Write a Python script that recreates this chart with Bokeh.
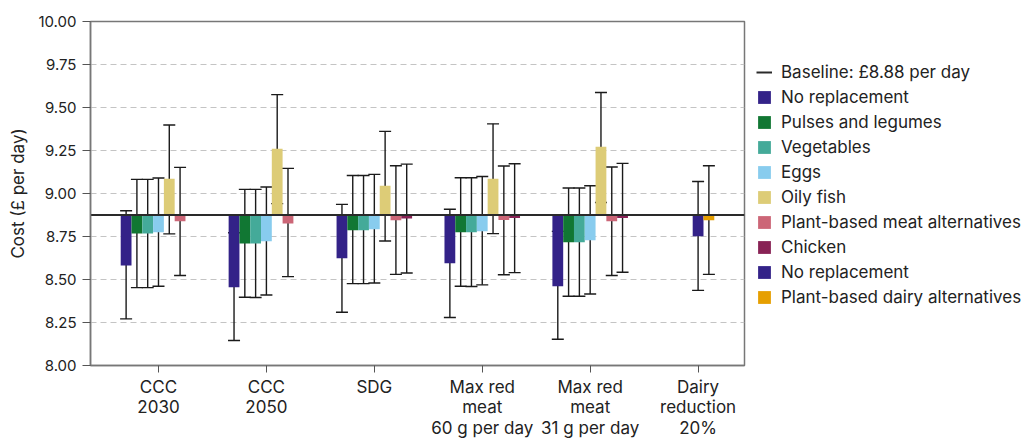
from bokeh.plotting import figure
from bokeh.models import (ColumnDataSource, Whisker, TeeHead, Legend, LegendItem,
                          FixedTicker, NumeralTickFormatter, Range1d)
from bokeh.embed import file_html
from bokeh.resources import INLINE

FONT = "Inter"
TXT = "#222222"

scenarios = ["CCC\n2030", "CCC\n2050", "SDG", "Max red\nmeat\n60 g per day",
             "Max red\nmeat\n31 g per day", "Dairy\nreduction\n20%"]
baseline = 8.875
baseline_label = "Baseline: £8.88 per day"

# meat scenarios (first five)
no_rep = [8.582, 8.455, 8.623, 8.594, 8.461]
no_rep_hi = [8.900, 8.772, 8.937, 8.908, 8.780]
no_rep_lo = [8.271, 8.145, 8.310, 8.279, 8.153]
pulses = [8.768, 8.710, 8.786, 8.774, 8.716]
pulses_hi = [9.082, 9.024, 9.105, 9.092, 9.032]
pulses_lo = [8.453, 8.397, 8.476, 8.461, 8.403]
veg = [8.768, 8.710, 8.786, 8.774, 8.716]
veg_hi = [9.082, 9.024, 9.105, 9.092, 9.032]
veg_lo = [8.453, 8.395, 8.476, 8.459, 8.403]
eggs = [8.774, 8.722, 8.792, 8.780, 8.728]
eggs_hi = [9.090, 9.038, 9.111, 9.099, 9.045]
eggs_lo = [8.461, 8.410, 8.480, 8.469, 8.416]
oily = [9.086, 9.260, 9.045, 9.086, 9.272]
oily_hi = [9.398, 9.575, 9.361, 9.405, 9.587]
oily_lo = [8.765, 8.941, 8.724, 8.767, 8.948]
pbma = [8.838, 8.826, 8.844, 8.846, 8.838]
pbma_hi = [9.152, 9.146, 9.161, 9.160, 9.154]
pbma_lo = [8.523, 8.517, 8.530, 8.528, 8.523]
chicken = [8.870, 8.870, 8.855, 8.858, 8.858]
chicken_hi = [None, None, 9.171, 9.173, 9.175]
chicken_lo = [None, None, 8.538, 8.540, 8.542]
# dairy scenario (last)
dairy_no_rep = [8.751]
dairy_no_rep_hi = [9.070]
dairy_no_rep_lo = [8.437]
pb_dairy = [8.844]
pb_dairy_hi = [9.161]
pb_dairy_lo = [8.530]

series = [
    ("No replacement", "#332288", [0, 1, 2, 3, 4], -0.3, no_rep, no_rep_hi, no_rep_lo),
    ("Pulses and legumes", "#117733", [0, 1, 2, 3, 4], -0.2, pulses, pulses_hi, pulses_lo),
    ("Vegetables", "#44AA99", [0, 1, 2, 3, 4], -0.1, veg, veg_hi, veg_lo),
    ("Eggs", "#88CCEE", [0, 1, 2, 3, 4], 0.0, eggs, eggs_hi, eggs_lo),
    ("Oily fish", "#DDCC77", [0, 1, 2, 3, 4], 0.1, oily, oily_hi, oily_lo),
    ("Plant-based meat alternatives", "#CC6677", [0, 1, 2, 3, 4], 0.2, pbma, pbma_hi, pbma_lo),
    ("Chicken", "#882255", [0, 1, 2, 3, 4], 0.3, chicken, chicken_hi, chicken_lo),
    ("No replacement", "#332288", [5], 0.0, dairy_no_rep, dairy_no_rep_hi, dairy_no_rep_lo),
    ("Plant-based dairy alternatives", "#E69F00", [5], 0.1, pb_dairy, pb_dairy_hi, pb_dairy_lo),
]

x_lo, x_hi = -0.63, 5.43
p = figure(frame_width=654, frame_height=344, min_border_left=90, min_border_top=21,
           min_border_right=272, min_border_bottom=70,
           x_range=Range1d(x_lo, x_hi), y_range=Range1d(8.0, 10.0),
           output_backend="svg", toolbar_location=None, background_fill_color="white")

bar_w = 0.1
items = []
bars = []
whiskers = []
for name, color, idx, off, vals, hi, lo in series:
    xs = [i + off for i in idx]
    src = ColumnDataSource(dict(x=xs, top=vals, bottom=[baseline] * len(vals)))
    r = p.vbar(x="x", top="top", bottom="bottom", width=bar_w, source=src,
               fill_color=color, line_color=None)
    bars.append((name, r))
    wx = [x for x, h in zip(xs, hi) if h is not None]
    wh = [h for h in hi if h is not None]
    wl = [l for l in lo if l is not None]
    whiskers.append(ColumnDataSource(dict(x=wx, upper=wh, lower=wl)))

for ws in whiskers:
    w = Whisker(base="x", upper="upper", lower="lower", source=ws, dimension="height",
                line_color="#1a1a1a", line_width=1.4,
                upper_head=TeeHead(size=12, line_color="#1a1a1a", line_width=1.4),
                lower_head=TeeHead(size=12, line_color="#1a1a1a", line_width=1.4))
    p.add_layout(w)

bl = p.line(x=[x_lo, x_hi], y=[baseline, baseline], line_color="#2a2a2a", line_width=2)

items.append(LegendItem(label=baseline_label, renderers=[bl]))
for name, r in bars:
    items.append(LegendItem(label=name, renderers=[r]))

legend = Legend(items=items, location=(12, 58), padding=0, margin=0,
                border_line_color=None, background_fill_alpha=0,
                glyph_width=16, glyph_height=16, label_height=21, spacing=4,
                label_standoff=9, label_text_font=FONT, label_text_font_size="17px",
                label_text_color=TXT)
p.add_layout(legend, "right")

# axes
p.xgrid.grid_line_color = None
p.ygrid.grid_line_color = "#c4c4c4"
p.ygrid.grid_line_dash = "6 4"
p.ygrid.grid_line_width = 1
p.ygrid.ticker = FixedTicker(ticks=[8.25, 8.5, 8.75, 9.0, 9.25, 9.5, 9.75])

p.yaxis.ticker = FixedTicker(ticks=[8.0, 8.25, 8.5, 8.75, 9.0, 9.25, 9.5, 9.75, 10.0])
p.yaxis.formatter = NumeralTickFormatter(format="0.00")
p.yaxis.axis_label = "Cost (£ per day)"
p.yaxis.axis_label_text_font = FONT
p.yaxis.axis_label_text_font_size = "17px"
p.yaxis.axis_label_text_font_style = "normal"
p.yaxis.axis_label_text_color = TXT
p.yaxis.axis_label_standoff = 7
p.yaxis.major_tick_out = 8
p.yaxis.major_tick_in = 0
p.yaxis.major_label_standoff = 6
p.yaxis.major_label_text_font_size = "15px"

p.xaxis.ticker = FixedTicker(ticks=list(range(len(scenarios))))
p.xaxis.major_label_overrides = {i: s for i, s in enumerate(scenarios)}
p.xaxis.major_tick_out = 7
p.xaxis.major_tick_in = 0
p.xaxis.major_label_standoff = 4
p.xaxis.major_label_text_font_size = "17px"
p.xaxis.major_label_text_line_height = 1.03

for ax in (p.xaxis, p.yaxis):
    ax.minor_tick_line_color = None
    ax.axis_line_color = "#777777"
    ax.axis_line_width = 1.5
    ax.major_tick_line_color = "#555555"
    ax.major_label_text_font = FONT
    ax.major_label_text_color = TXT

p.outline_line_color = "#777777"
p.outline_line_width = 1.5

open("out.html", "w").write(file_html(p, INLINE))
